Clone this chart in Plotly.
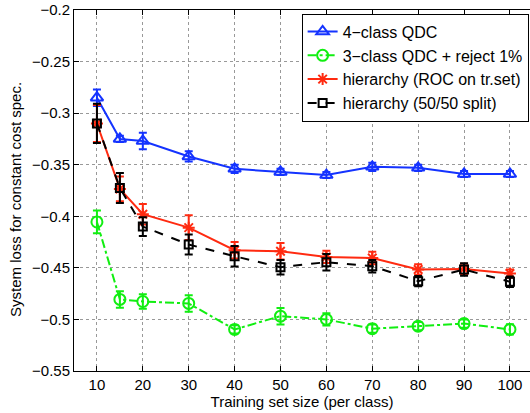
import plotly.graph_objects as go

x = [10, 15, 20, 30, 40, 50, 60, 70, 80, 90, 100]

qdc4 = [-0.285, -0.325, -0.327, -0.342, -0.354, -0.357, -0.360, -0.352, -0.353, -0.359, -0.359]
qdc4_err = [0.008, 0.003, 0.008, 0.005, 0.004, 0.003, 0.003, 0.004, 0.003, 0.003, 0.003]

qdc3 = [-0.4055, -0.4806, -0.4826, -0.4845, -0.5097, -0.4968, -0.500, -0.509, -0.5065, -0.504, -0.5097]
qdc3_err = [0.011, 0.008, 0.007, 0.008, 0.004, 0.008, 0.006, 0.004, 0.004, 0.004, 0.005]

hier_roc = [-0.310, -0.3735, -0.398, -0.411, -0.4329, -0.4339, -0.4394, -0.4405, -0.4516, -0.451, -0.4555]
hier_roc_err = [0.018, 0.012, 0.010, 0.012, 0.008, 0.008, 0.006, 0.006, 0.005, 0.005, 0.004]

hier_split = [-0.310, -0.3726, -0.410, -0.4274, -0.4387, -0.4494, -0.4445, -0.4484, -0.4629, -0.4516, -0.4635]
hier_split_err = [0.019, 0.0145, 0.009, 0.0097, 0.010, 0.007, 0.008, 0.006, 0.005, 0.006, 0.005]

names = ["4\u2212class QDC", "3\u2212class QDC + reject 1%",
         "hierarchy (ROC on tr.set)", "hierarchy (50/50 split)"]

x_ticks = [10, 20, 30, 40, 50, 60, 70, 80, 90, 100]
y_ticks = [-0.2, -0.25, -0.3, -0.35, -0.4, -0.45, -0.5, -0.55]

fig = go.Figure()

def add(y, err, name, color, dash, symbol, size):
    fig.add_trace(go.Scatter(
        x=x, y=y, name=name, mode="lines+markers",
        line=dict(color=color, width=2, dash=dash),
        marker=dict(symbol=symbol, size=size, color=color,
                    line=dict(color=color, width=2)),
        error_y=dict(type="data", array=err, visible=True,
                     color=color, thickness=2, width=4),
    ))

add(qdc4, qdc4_err, names[0], "#1433ff", "solid", "triangle-up-open", 11)
add(qdc3, qdc3_err, names[1], "#11ee11", "dashdot", "circle-open", 11)
add(hier_roc, hier_roc_err, names[2], "#ff2a10", "solid", "asterisk-open", 10)
add(hier_split, hier_split_err, names[3], "#000000", "dash", "square-open", 8)

axis_font = dict(family="Liberation Sans, Arial, sans-serif", size=15, color="black")
legend_font = dict(family="Liberation Sans, Arial, sans-serif", size=16, color="black")

fig.update_layout(
    width=530, height=413,
    margin=dict(l=74, r=0, t=10, b=42),
    paper_bgcolor="white", plot_bgcolor="white",
    font=axis_font,
    showlegend=True,
    legend=dict(x=0.997, xanchor="right", xref="paper", y=0.99, yanchor="top",
                bordercolor="black", borderwidth=1, bgcolor="white",
                font=legend_font, tracegroupgap=0, itemwidth=30),
    xaxis=dict(range=[5, 104.37], tickvals=x_ticks, ticktext=[str(v) for v in x_ticks],
               showline=True, linecolor="black", linewidth=1, mirror="ticks",
               ticks="inside", ticklen=5, tickcolor="black",
               showgrid=True, gridcolor="#999999", griddash="dot", gridwidth=1,
               zeroline=False,
               title=dict(text="Training set size (per class)", font=axis_font, standoff=2)),
    yaxis=dict(range=[-0.55, -0.2], tickvals=y_ticks,
               ticktext=["\u22120.2", "\u22120.25", "\u22120.3", "\u22120.35",
                         "\u22120.4", "\u22120.45", "\u22120.5", "\u22120.55"],
               showline=True, linecolor="black", linewidth=1,
               ticks="inside", ticklen=5, tickcolor="black",
               showgrid=True, gridcolor="#999999", griddash="dot", gridwidth=1,
               zeroline=False),
    annotations=[dict(text="System loss for constant cost spec.", textangle=-90,
                      xref="paper", yref="paper", x=-74/456 + 15/456, y=(413-42-200)/361,
                      xanchor="center", yanchor="middle", showarrow=False, font=axis_font)],
)

fig.write_html("out.html", config={"displayModeBar": False},
               post_script="document.body.style.margin='0';document.body.style.overflow='hidden';")
